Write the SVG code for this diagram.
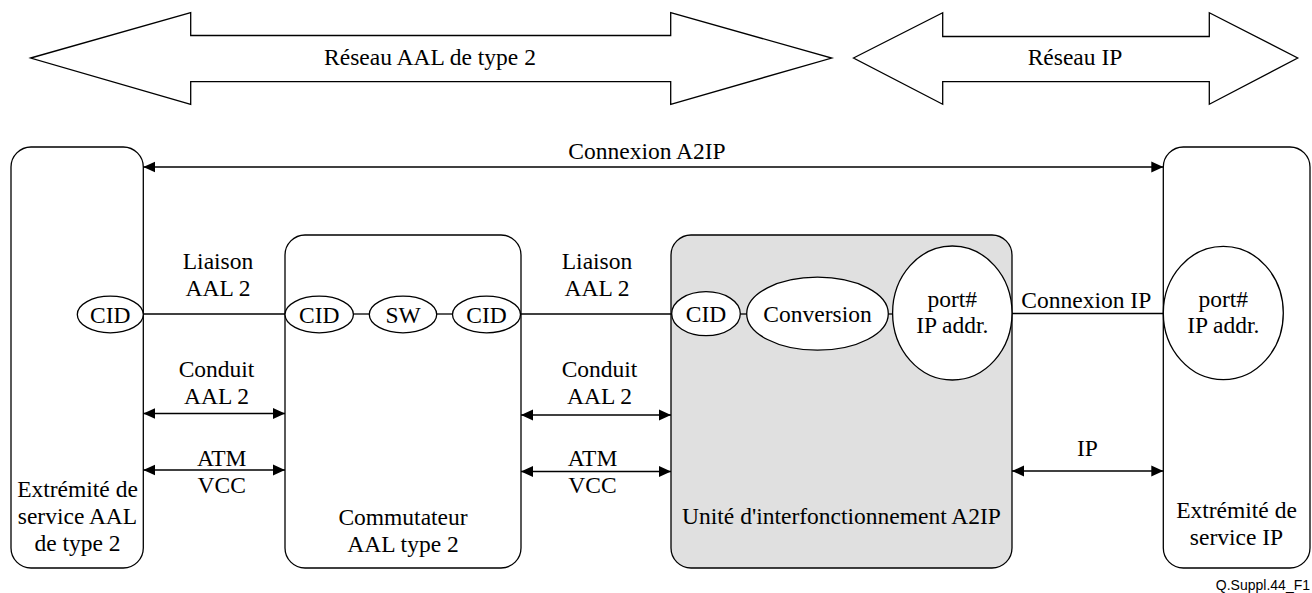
<svg xmlns="http://www.w3.org/2000/svg" width="1312" height="593" viewBox="0 0 1312 593">
<style>
.t{font-family:'Liberation Serif','DejaVu Serif',serif;font-size:23.5px;fill:#000;text-anchor:middle}
.box{fill:#fff;stroke:#000;stroke-width:1.3}
.gray{fill:#e0e0e0}
.el{fill:#fff;stroke:#000;stroke-width:1.3}
.big{fill:#fff;stroke:#000;stroke-width:1.3;stroke-linejoin:miter}
.ln{stroke:#000;stroke-width:1.3;fill:none}
.arr{stroke:#000;stroke-width:1.3;fill:none;marker-start:url(#ah);marker-end:url(#ah)}
.ref{font-family:'Liberation Sans',Arial,sans-serif;font-size:14px;fill:#000;text-anchor:end}
</style>
<defs>
<marker id="ah" markerUnits="userSpaceOnUse" markerWidth="13" markerHeight="12" refX="12" refY="6" orient="auto-start-reverse">
<path d="M0,0.5 L12,6 L0,11.5 z" fill="#000"/>
</marker>
</defs>

<g id="reseau-aal">
<polygon class="big" points="30.7,58 190.7,12.7 190.7,35.5 670.7,35.5 670.7,12.7 831.7,58 670.7,104.3 670.7,81.7 190.7,81.7 190.7,104.3"/>
<text class="t" x="430" y="65" font-family="Liberation Serif, DejaVu Serif, serif">Réseau AAL de type 2</text>
</g>

<g id="reseau-ip">
<polygon class="big" points="853.5,58 942.7,12.7 942.7,36.5 1209.3,36.5 1209.3,12.7 1297.7,58 1209.3,104.3 1209.3,81.7 942.7,81.7 942.7,104.3"/>
<text class="t" x="1075" y="65">Réseau IP</text>
</g>

<g id="extremite-aal">
<rect class="box" x="11" y="147" width="132.3" height="421" rx="20" ry="20"/>
<ellipse class="el" cx="110.3" cy="314.5" rx="33" ry="18.3"/>
<text class="t" x="110.3" y="322.5">CID</text>
<text class="t" x="77.5" y="497">Extrémité de</text>
<text class="t" x="77.5" y="524">service AAL</text>
<text class="t" x="77.5" y="551">de type 2</text>
</g>

<g id="commutateur">
<rect class="box" x="285" y="235" width="236" height="333" rx="20" ry="20"/>
<ellipse class="el" cx="319.2" cy="314.5" rx="34.2" ry="18.3"/>
<text class="t" x="319.2" y="322.5">CID</text>
<ellipse class="el" cx="403" cy="314.5" rx="33.7" ry="18.3"/>
<text class="t" x="403" y="322.5">SW</text>
<ellipse class="el" cx="486.5" cy="314.5" rx="34" ry="18.3"/>
<text class="t" x="486.5" y="322.5">CID</text>
<text class="t" x="403" y="525">Commutateur</text>
<text class="t" x="403" y="552">AAL type 2</text>
</g>

<g id="unite-interfonctionnement">
<rect class="box gray" x="671" y="235" width="341" height="333" rx="20" ry="20"/>
<ellipse class="el" cx="706" cy="313.7" rx="34.3" ry="22"/>
<text class="t" x="706" y="322">CID</text>
<ellipse class="el" cx="817.5" cy="313.7" rx="70.8" ry="36.5"/>
<text class="t" x="817.5" y="322">Conversion</text>
<ellipse class="el" cx="952.3" cy="313" rx="59.7" ry="67"/>
<text class="t" x="952.3" y="306.7">port#</text>
<text class="t" x="952.3" y="332.7">IP addr.</text>
<text class="t" x="841.5" y="523.5">Unité d'interfonctionnement A2IP</text>
</g>

<g id="extremite-ip">
<rect class="box" x="1163.3" y="147" width="146.7" height="421" rx="20" ry="20"/>
<ellipse class="el" cx="1223.3" cy="313" rx="60" ry="66.7"/>
<text class="t" x="1223.3" y="306.7">port#</text>
<text class="t" x="1223.3" y="332.7">IP addr.</text>
<text class="t" x="1236.5" y="518">Extrémité de</text>
<text class="t" x="1236.5" y="545">service IP</text>
</g>

<g id="connectors">
<line class="arr" x1="143.3" y1="167" x2="1163.3" y2="167"/>
<text class="t" x="647" y="159.3">Connexion A2IP</text>

<line class="ln" x1="143.3" y1="314" x2="285" y2="314"/>
<line class="ln" x1="353.4" y1="314" x2="369.3" y2="314"/>
<line class="ln" x1="436.7" y1="314" x2="452.5" y2="314"/>
<line class="ln" x1="520.5" y1="314" x2="671.7" y2="314"/>
<line class="ln" x1="740.3" y1="314" x2="746.7" y2="314"/>
<line class="ln" x1="888.3" y1="314" x2="892.6" y2="314"/>
<line class="ln" x1="1012" y1="313.5" x2="1163.3" y2="313.5"/>

<text class="t" x="218" y="269">Liaison</text>
<text class="t" x="218" y="295.5">AAL 2</text>
<text class="t" x="597" y="269">Liaison</text>
<text class="t" x="597" y="295.5">AAL 2</text>

<text class="t" x="216.5" y="377.3">Conduit</text>
<text class="t" x="216.5" y="404.3">AAL 2</text>
<line class="arr" x1="143.3" y1="413.5" x2="285" y2="413.5"/>
<text class="t" x="599.5" y="377.3">Conduit</text>
<text class="t" x="599.5" y="404.3">AAL 2</text>
<line class="arr" x1="521" y1="415" x2="671" y2="415"/>

<text class="t" x="221.7" y="466">ATM</text>
<text class="t" x="221.7" y="493.3">VCC</text>
<line class="arr" x1="143.3" y1="470" x2="285" y2="470"/>
<text class="t" x="592.5" y="466">ATM</text>
<text class="t" x="592.5" y="493.3">VCC</text>
<line class="arr" x1="521" y1="471.5" x2="671" y2="471.5"/>

<text class="t" x="1086.3" y="308.3">Connexion IP</text>
<text class="t" x="1087.5" y="456">IP</text>
<line class="arr" x1="1012" y1="471" x2="1163.3" y2="471"/>
</g>

<text class="ref" x="1310" y="590">Q.Suppl.44_F1</text>
</svg>
